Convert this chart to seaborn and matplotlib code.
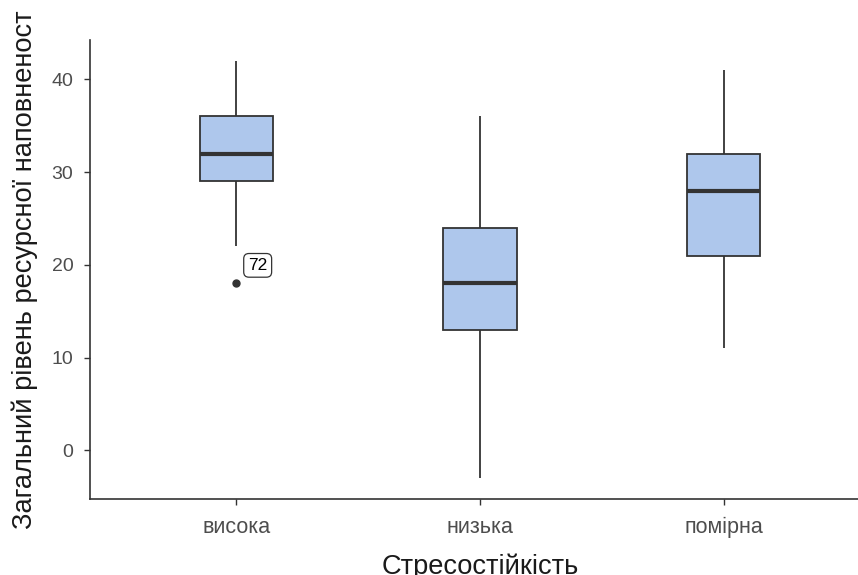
import matplotlib
matplotlib.use("Agg")
import matplotlib.pyplot as plt
import seaborn as sns
import pandas as pd

# Five-number summaries per group (lower whisker, Q1, median, Q3, upper whisker)
groups = ["висока", "низька", "помірна"]
whisker_low = [22, -3, 11]
q1 = [29, 13, 21]
median = [32, 18, 28]
q3 = [36, 24, 32]
whisker_high = [42, 36, 41]
outlier_values = [[18], [], []]
outlier_ids = [["72"], [], []]

yticks = [0, 10, 20, 30, 40]
x_title = "Стресостійкість"
y_title = "Загальний рівень ресурсної наповненост"

# Build observations whose quantiles reproduce each summary
rows = []
for g, lo, a, m, b, hi, outs in zip(groups, whisker_low, q1, median, q3, whisker_high, outlier_values):
    if outs:
        vals = outs + [lo, a, a, m, b, b, hi, hi]
    else:
        vals = [lo, a, m, b, hi]
    rows += [(g, v) for v in vals]
df = pd.DataFrame(rows, columns=["group", "value"])

sns.set_theme(style="ticks")
plt.rcParams["font.family"] = ["Liberation Sans", "DejaVu Sans"]

fig = plt.figure(figsize=(8.58, 5.75), dpi=100)
fig.patch.set_facecolor("white")
# panel runs slightly past the right edge of the canvas
ax = fig.add_axes([90 / 858, 1 - 499 / 575, 780 / 858, (499 - 40) / 575])
ax.set_facecolor("white")

edge = "#333333"
sns.boxplot(
    data=df, x="group", y="value", order=groups, ax=ax,
    width=0.3, color="#aec7ec", saturation=1, whis=1.5,
    linecolor=edge, linewidth=1.3, showcaps=False,
    medianprops=dict(color=edge, linewidth=3),
    flierprops=dict(marker="o", markersize=5, markerfacecolor=edge,
                    markeredgecolor=edge),
)

# Label the outlying observation with its id
for i, (outs, ids) in enumerate(zip(outlier_values, outlier_ids)):
    for v, lab in zip(outs, ids):
        ax.annotate(
            lab, xy=(i, v), xytext=(8.5, 13), textcoords="offset points",
            ha="left", va="center", fontsize=12.5, color="black",
            bbox=dict(boxstyle="round,pad=0.25,rounding_size=0.3",
                      fc="white", ec=edge, lw=0.9),
        )

ax.set_xlim(-0.6, 2.6)
ax.set_ylim(-5.25, 44.25)
ax.set_yticks(yticks)
ax.set_xlabel(x_title, fontsize=19.6, color="#1a1a1a", labelpad=11)
ax.set_ylabel(y_title, fontsize=19.6, color="#1a1a1a", labelpad=9.5)
ax.tick_params(axis="both", labelcolor="#4d4d4d", color=edge,
               length=4.5, width=1, direction="out", top=False, right=False)
ax.tick_params(axis="y", labelsize=14, pad=7.5)
ax.tick_params(axis="x", labelsize=15.5, pad=8.5)
for side in ["top", "right"]:
    ax.spines[side].set_visible(False)
for side in ["left", "bottom"]:
    ax.spines[side].set_color(edge)
    ax.spines[side].set_linewidth(1.2)
ax.grid(False)

fig.savefig("out.png", dpi=100, facecolor="white")
